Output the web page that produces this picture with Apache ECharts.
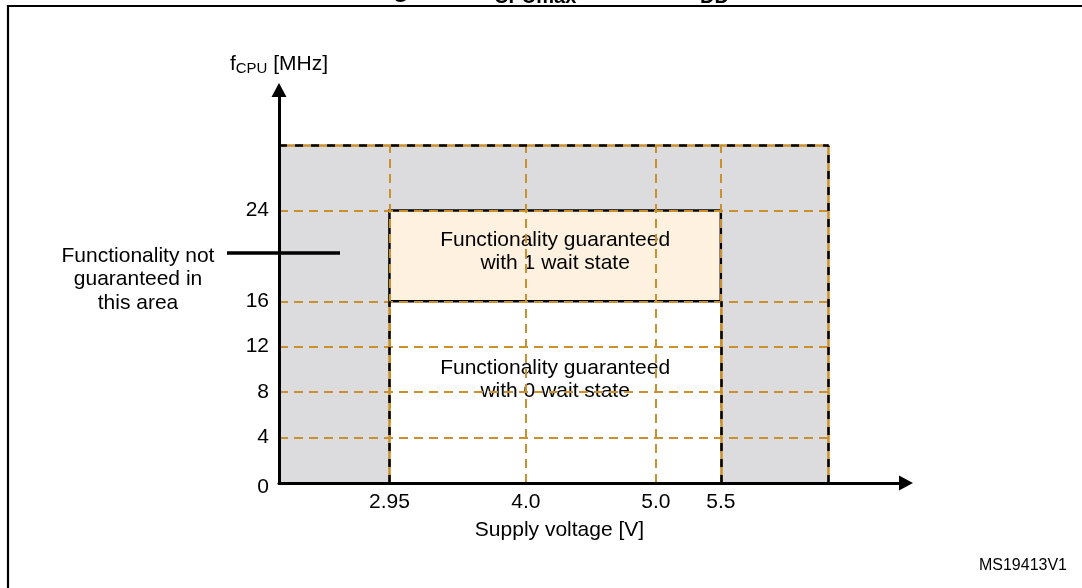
<!DOCTYPE html>
<html><head><meta charset="utf-8">
<script src="https://cdn.jsdelivr.net/npm/echarts@6/dist/echarts.min.js"></script>
<style>html,body{margin:0;padding:0;background:#fff}#c{width:1082px;height:588px}</style>
</head><body><div id="c"></div>
<script>
// ---- data ----
const yTicks = [0, 4, 8, 12, 16, 24];                 // fCPU tick labels [MHz]
const xTicks = [2.95, 4.0, 5.0, 5.5];                 // supply voltage ticks [V]
const xTickLabels = ['2.95', '4.0', '5.0', '5.5'];
const vddRange = [2.95, 5.5];                         // guaranteed supply range [V]
const zeroWaitFreq = [0, 16];                         // 0 wait state [MHz]
const oneWaitFreq = [16, 24];                         // 1 wait state [MHz]
const areaVdd = [2.1, 6.33];                          // drawn area extent [V]
const areaFreq = [0, 29.7];                           // drawn area extent [MHz]
const xAxisRange = [2.1, 6.925];
const yAxisRange = [0, 34.6];
const zoneTexts = ['Functionality guaranteed\nwith 1 wait state',
                   'Functionality guaranteed\nwith 0 wait state'];
const outsideText = 'Functionality not\nguaranteed in\nthis area';

// ---- styles ----
const FONT = '"Liberation Sans", Arial, Helvetica, sans-serif';
const ORANGE = '#c9912e';
const GRAY = '#dcdcdf';
const BEIGE = '#fef1df';

const chart = echarts.init(document.getElementById('c'), null, {renderer: 'canvas'});

function seg(x0, y0, x1, y1) { return [{coord: [x0, y0]}, {coord: [x1, y1]}]; }
function box(xr, yr) { return [{coord: [xr[0], yr[0]]}, {coord: [xr[1], yr[1]]}]; }
function markerSeries(z, extra) {
  return Object.assign({type: 'line', data: [], z: z, silent: true, clip: false, animation: false}, extra);
}
const gridLineStyle = {color: ORANGE, width: 2, type: [9, 6]};

// boundary segments (solid orange under black dashes)
const boundaries = [
  seg(areaVdd[0], areaFreq[1], areaVdd[1], areaFreq[1]),
  seg(areaVdd[1], areaFreq[0], areaVdd[1], areaFreq[1]),
  seg(vddRange[0], zeroWaitFreq[0], vddRange[0], zeroWaitFreq[1]),
  seg(vddRange[1], zeroWaitFreq[0], vddRange[1], zeroWaitFreq[1])
];

const option = {
  backgroundColor: '#fff',
  animation: false,
  textStyle: {fontFamily: FONT},
  grid: {left: 279, right: 176, top: 90, bottom: 105, containLabel: false},
  xAxis: {
    type: 'value', min: xAxisRange[0], max: xAxisRange[1], z: 10,
    axisLine: {show: true, symbol: ['none', 'triangle'], symbolSize: [15, 14],
               lineStyle: {color: '#000', width: 3}},
    axisTick: {show: false},
    splitLine: {show: false},
    axisLabel: {customValues: xTicks, margin: 9, fontSize: 21, color: '#000', fontFamily: FONT,
                formatter: v => xTickLabels[xTicks.indexOf(v)]},
    name: 'Supply voltage [V]', nameLocation: 'middle', nameGap: 37,
    nameTextStyle: {fontSize: 21, color: '#000', fontFamily: FONT, padding: [0, 66, 0, 0]}
  },
  yAxis: {
    type: 'value', min: yAxisRange[0], max: yAxisRange[1], z: 10,
    axisLine: {show: true, symbol: ['none', 'triangle'], symbolSize: [15, 14],
               lineStyle: {color: '#000', width: 3}},
    axisTick: {show: false},
    splitLine: {show: false},
    axisLabel: {customValues: yTicks, margin: 10, fontSize: 21, color: '#000', fontFamily: FONT,
                formatter: v => (v === 0 ? '{z|0}' : String(v)),
                rich: {z: {fontSize: 21, color: '#000', fontFamily: FONT, padding: [9, 0, 0, 0]}}},
    name: '{m|f}{s|CPU}{m| [MHz]}', nameLocation: 'end', nameGap: 14,
    nameTextStyle: {
      fontSize: 21, color: '#000', fontFamily: FONT,
      rich: {
        m: {fontSize: 21, lineHeight: 24, color: '#000', fontFamily: FONT},
        s: {fontSize: 15, lineHeight: 14, verticalAlign: 'bottom', color: '#000', fontFamily: FONT}
      }
    }
  },
  series: [
    markerSeries(1, {markArea: {silent: true, itemStyle: {color: GRAY, borderWidth: 0},
      data: [box(areaVdd, areaFreq)]}}),
    markerSeries(2, {markArea: {silent: true, itemStyle: {color: '#fff', borderWidth: 0},
      data: [box(vddRange, zeroWaitFreq)]}}),
    markerSeries(3, {markLine: {silent: true, symbol: ['none', 'none'], label: {show: false},
      lineStyle: gridLineStyle,
      data: xTicks.map(x => seg(x, areaFreq[0], x, areaFreq[1]))}}),
    markerSeries(4, {markArea: {silent: true,
      itemStyle: {color: BEIGE, borderColor: '#000', borderWidth: 2.5, borderType: 'solid'},
      label: {show: true, position: 'inside', offset: [0, -4], formatter: zoneTexts[0], color: '#000',
              fontSize: 21, lineHeight: 23, fontFamily: FONT},
      data: [box(vddRange, oneWaitFreq)]}}),
    markerSeries(5, {markLine: {silent: true, symbol: ['none', 'none'], label: {show: false},
      lineStyle: gridLineStyle,
      data: yTicks.filter(y => y > 0).map(y => seg(areaVdd[0], y, areaVdd[1], y))}}),
    markerSeries(6, {markLine: {silent: true, symbol: ['none', 'none'], label: {show: false},
      lineStyle: {color: ORANGE, width: 2.5, type: 'solid'}, data: boundaries}}),
    markerSeries(7, {markLine: {silent: true, symbol: ['none', 'none'], label: {show: false},
      lineStyle: {color: '#000', width: 2.5, type: [8, 8]}, data: boundaries}}),
    markerSeries(8, {markArea: {silent: true, itemStyle: {color: 'rgba(0,0,0,0)', borderWidth: 0},
      label: {show: true, position: 'inside', offset: [0, -12], formatter: zoneTexts[1], color: '#000',
              fontSize: 21, lineHeight: 23, fontFamily: FONT},
      data: [box(vddRange, zeroWaitFreq)]}})
  ],
  graphic: [
    {type: 'rect', z: 100, shape: {x: 8, y: 6, width: 1200, height: 700},
     style: {fill: 'none', stroke: '#000', lineWidth: 2.2}},
    {type: 'text', x: 370, y: -10, style: {text: 'Figure 9. f', font: 'bold 26px ' + FONT, fill: '#000', verticalAlign: 'middle'}},
    {type: 'text', x: 494, y: -3, style: {text: 'CPUmax', font: 'bold 20px ' + FONT, fill: '#000', verticalAlign: 'middle'}},
    {type: 'text', x: 578, y: -10, style: {text: ' versus V', font: 'bold 26px ' + FONT, fill: '#000', verticalAlign: 'middle'}},
    {type: 'text', x: 700, y: -3, style: {text: 'DD', font: 'bold 20px ' + FONT, fill: '#000', verticalAlign: 'middle'}},
    {type: 'text', x: 138, y: 244, style: {text: outsideText, font: '21px ' + FONT, lineHeight: 23.5,
     fill: '#000', align: 'center', verticalAlign: 'top'}},
    {type: 'line', z: 50, shape: {x1: 227, y1: 253, x2: 340, y2: 253}, style: {stroke: '#000', lineWidth: 3.5}},
    {type: 'text', x: 1067, y: 566, style: {text: 'MS19413V1', font: '16px ' + FONT, fill: '#000',
     align: 'right', verticalAlign: 'middle'}}
  ]
};
chart.setOption(option);
</script>
</body></html>
